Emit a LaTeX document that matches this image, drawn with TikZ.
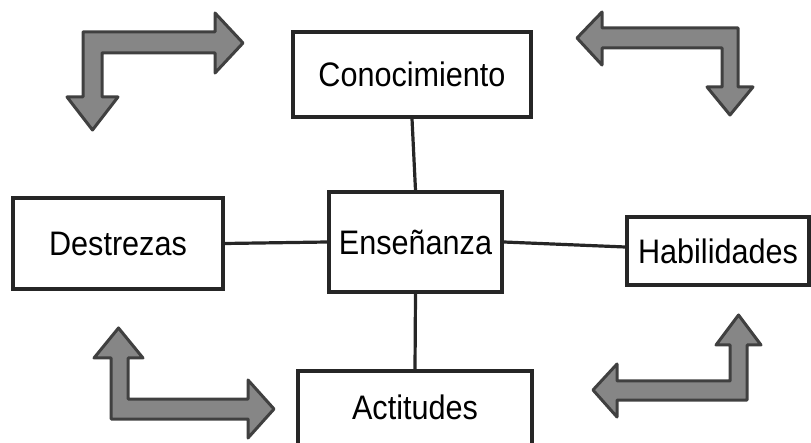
\documentclass[tikz,border=0pt]{standalone}
\usepackage{fontspec}
\setmainfont{Liberation Sans}[FakeStretch=0.9]
\begin{document}
\begin{tikzpicture}[x=1pt,y=-1pt,
  box/.style={draw=black!85,line width=3.5pt,rectangle,inner sep=0pt,fill=white,
    font=\fontsize{34}{38}\selectfont},
  conn/.style={draw=black!85,line width=3.2pt},
  bent/.style={fill=gray!95,draw=black!75,line width=3pt,line join=round}]
\useasboundingbox (0,0) rectangle (811,443);
\clip (0,0) rectangle (811,443);
\node[box,minimum width=238pt,minimum height=85pt] (con) at (412,74.5) {Conocimiento};
\node[box,minimum width=173pt,minimum height=100pt] (ens) at (415.5,242) {Enseñanza};
\node[box,minimum width=210pt,minimum height=91pt] (des) at (118,243.5) {Destrezas};
\node[box,minimum width=182pt,minimum height=68pt] (hab) at (718,251) {Habilidades};
\node[box,minimum width=234pt,minimum height=84pt,text depth=12.5pt] (act) at (415,413) {Actitudes};
\draw[conn] (con.south) -- (ens.north);
\draw[conn] (ens.south) -- (act.north);
\draw[conn] (des.east) -- (ens.west);
\draw[conn] (ens.east) -- ([yshift=4pt]hab.west);
% bent arrows
\draw[bent] (83,32) -- (215,32) -- (215,13) -- (243,43) -- (215,73) -- (215,53) -- (102,53) -- (102,97) -- (118,97) -- (92.5,130) -- (67,97) -- (83,97) -- cycle;
\draw[bent] (738,28) -- (602,28) -- (602,12) -- (577,38) -- (602,65) -- (602,48) -- (722,48) -- (722,87) -- (707,87) -- (730,115) -- (753,87) -- (738,87) -- cycle;
\draw[bent] (111,419) -- (111,358) -- (94,358) -- (118.5,328) -- (143,358) -- (128,358) -- (128,399) -- (248,399) -- (248,380) -- (274,409) -- (248,438) -- (248,419) -- cycle;
\draw[bent] (747,400) -- (617,400) -- (617,417) -- (593,390) -- (617,364) -- (617,381) -- (730,381) -- (730,345) -- (716,345) -- (738.5,315) -- (761,345) -- (747,345) -- cycle;
\end{tikzpicture}
\end{document}
